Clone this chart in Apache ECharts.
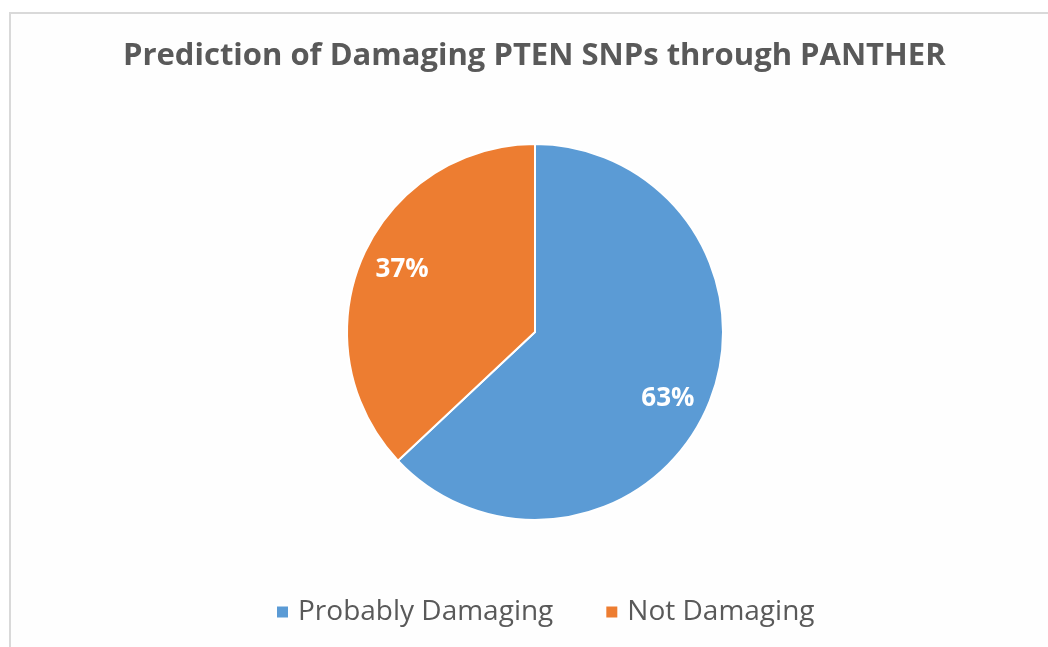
<!DOCTYPE html>
<html><head><meta charset="utf-8">
<script src="https://cdn.jsdelivr.net/npm/echarts@6/dist/echarts.min.js"></script>
<style>html,body{margin:0;padding:0;background:#fff;}#c{width:1048px;height:647px;}</style>
</head><body><div id="c"></div>
<script>
const titleText = 'Prediction of Damaging PTEN SNPs through PANTHER';
const categories = ['Probably Damaging', 'Not Damaging'];
const values = [63, 37];
const colors = ['#5B9BD5', '#ED7D31'];

const CX = 535, CY = 332;
const data = categories.map((n, i) => ({ name: n, value: values[i], itemStyle: { color: colors[i] } }));
const chart = echarts.init(document.getElementById('c'));
chart.setOption({
  animation: false,
  backgroundColor: '#ffffff',
  graphic: [{
    type: 'rect', left: 9, top: 12, shape: { width: 1100, height: 700 },
    style: { fill: '#fefefe', stroke: '#d9d9d9', lineWidth: 2 }, z: -10, silent: true
  }],
  title: {
    text: titleText, left: 118, top: 36,
    textStyle: { fontFamily: 'Open Sans', fontWeight: 'bold', fontSize: 31, color: '#595959' }
  },
  legend: {
    data: categories, bottom: 16, left: 270, icon: 'rect', itemWidth: 13, itemHeight: 13,
    itemGap: 51, textStyle: { fontFamily: 'Open Sans', fontSize: 28, color: '#595959', padding: [0, 0, 0, 4] }
  },
  series: [{
    type: 'pie', center: [CX, CY], radius: [0, 188], startAngle: 90, clockwise: true,
    data: data, label: { show: false }, labelLine: { show: false },
    itemStyle: { borderColor: '#ffffff', borderWidth: 2 }
  }, {
    type: 'pie', center: [CX, CY], radius: [106, 188], startAngle: 90, clockwise: true, silent: true,
    data: categories.map((n, i) => ({ name: n, value: values[i], itemStyle: { color: 'rgba(0,0,0,0)' } })),
    label: { show: true, position: 'inside', formatter: '{d}%', fontFamily: 'Open Sans', fontWeight: 'bold', fontSize: 26, color: '#ffffff' },
    labelLine: { show: false }, emphasis: { disabled: true },
    labelLayout: function (p) {
      const r = p.labelRect;
      const x = r.x + r.width / 2 - CX, y = r.y + r.height / 2 - CY;
      const a = Math.atan2(y, x) + 2.5 * Math.PI / 180;
      const d = Math.sqrt(x * x + y * y) * 0.985;
      return { x: CX + d * Math.cos(a), y: CY + 2 + d * Math.sin(a), align: 'center', verticalAlign: 'middle' };
    }
  }]
});
</script></body></html>
